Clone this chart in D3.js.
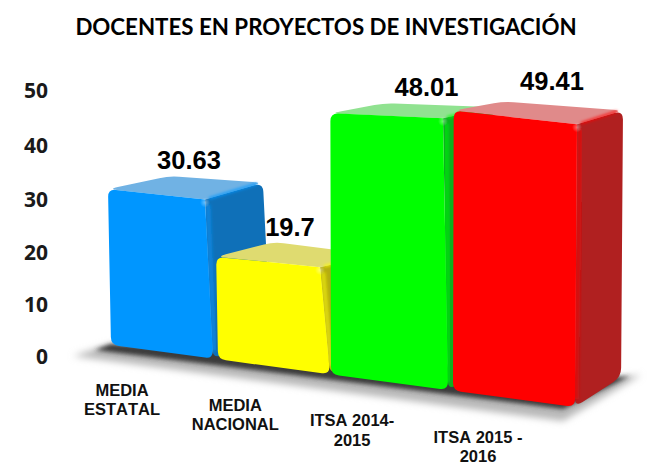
<!DOCTYPE html>
<html><head><meta charset="utf-8">
<script src="https://cdn.jsdelivr.net/npm/d3@7"></script>
<style>html,body{margin:0;padding:0;background:#fff}svg{display:block}</style></head>
<body><svg id="c" width="649" height="471"></svg>
<script>
const title = "DOCENTES EN PROYECTOS DE INVESTIGACIÓN";
const categories = [["MEDIA","ESTATAL"],["MEDIA","NACIONAL"],["ITSA 2014-","2015"],["ITSA 2015 -","2016"]];
const values = [30.63, 19.7, 48.01, 49.41];
const valueTexts = ["30.63","19.7","48.01","49.41"];
const tickValues = [0,10,20,30,40,50];
const frontColors = ["#0096ff","#ffff00","#00ff00","#ff0000"];
const topColors = ["#70b2e4","#dfdb70","#90e290","#e08a8a"];
const sideColors = ["#0f70b8","#b5ad10","#0cb01e","#b02020"];
const rimColors = ["#0a84dc","#dcd808","#06d810","#d81010"];

const svg = d3.select("#c");
const idx = [0,1,2,3];
const xLeft = d3.scaleLinear().domain(idx).range([111,218,331,453]);
const xRight = d3.scaleLinear().domain(idx).range([213,330,448,575]);
const ground = d3.scaleLinear().domain([111,575]).range([345,407]);
const perUnit = d3.scaleLinear().domain([111,218,331,453,575]).range([5.09,5.2,5.44,5.67,5.72]);
const lean = d3.scaleLinear().domain([111,575]).range([-3,2]);
const topRightLean = d3.scaleLinear().domain([213,330,448,575]).range([-8,-10,-5,2]);
const backDx = d3.scaleLinear().domain([108,577]).range([61,46]);
const backDy = d3.scaleLinear().domain([108,217,331,455,577]).range([-13,-15,-10,-9,-12]);
const groundDy = d3.scaleLinear().domain([108,577]).range([-20,-30]);
const yAxisScale = d3.scaleLinear().domain(tickValues).range([357,305,253,200,146,91]);
const labelShift = d3.scaleOrdinal().domain(idx).range([27,16,37,38]);
const labelLift = d3.scaleOrdinal().domain(idx).range([16,15,16,21]);
const catShift = d3.scaleLinear().domain([162,514]).range([-40,-36]);
const catDrop = 39;

const defs = svg.append("defs");
[["blur",2],["blurWide",3.5],["soft",1.5]].forEach(([id,s]) =>
  defs.append("filter").attr("id",id).attr("x","-30%").attr("y","-60%").attr("width","160%").attr("height","220%")
    .append("feGaussianBlur").attr("stdDeviation",s));
const hl = defs.append("radialGradient").attr("id","hl");
hl.append("stop").attr("offset",0).attr("stop-color","#fff").attr("stop-opacity",.4);
hl.append("stop").attr("offset",1).attr("stop-color","#fff").attr("stop-opacity",0);

// Title
svg.append("text").attr("x",326).attr("y",35).attr("text-anchor","middle")
  .attr("font-family","Lato").attr("font-weight",700).attr("font-size",22.3)
  .attr("fill","#000").text(title);

// Value axis
const axis = svg.append("g").attr("transform","translate(48,0)")
  .call(d3.axisLeft(yAxisScale).tickValues(tickValues).tickSize(0).tickPadding(0).tickFormat(d3.format("d")));
axis.select(".domain").remove();
axis.selectAll("text").attr("font-family","Open Sans").attr("font-weight",700).attr("font-size",21).attr("fill","#1a1a1a");

// Floor shadow, derived from the ground line
const g0 = xLeft(0), g3 = xRight(3);
const backEnd = [g3+backDx(g3),ground(g3)+groundDy(g3)];
const wideFloor = [[g0-38,ground(g0)+11],[g0,ground(g0)-1],backEnd,[g3+66,ground(g3)-32],[g3-12,ground(g3)+14]];
const darkFloor = [[g0-16,ground(g0)+5],[g0,ground(g0)-1],backEnd,[g3+55,ground(g3)-31],[g3-12,ground(g3)+2]];
svg.append("path").attr("d",d3.line()(wideFloor)+"Z").attr("fill","#b8b8b8").attr("filter","url(#blurWide)");
svg.append("path").attr("d",d3.line()(darkFloor)+"Z").attr("fill","#3a3a3a").attr("filter","url(#blur)");

const poly = d3.line();
// Rounds only the corners listed in `soft`: the others stay sharp
function roundedPath(pts, r, soft) {
  const p = d3.path();
  const n = pts.length;
  pts.forEach((c,i) => {
    const a = pts[(i+n-1)%n], b = pts[(i+1)%n];
    const rad = soft[i] ? r : 0;
    const la = Math.hypot(a[0]-c[0],a[1]-c[1]), lb = Math.hypot(b[0]-c[0],b[1]-c[1]);
    const s = [c[0]+(a[0]-c[0])*rad/la, c[1]+(a[1]-c[1])*rad/la];
    const e = [c[0]+(b[0]-c[0])*rad/lb, c[1]+(b[1]-c[1])*rad/lb];
    if (i===0) p.moveTo(s[0],s[1]); else p.lineTo(s[0],s[1]);
    p.quadraticCurveTo(c[0],c[1],e[0],e[1]);
  });
  p.closePath();
  return p.toString();
}
idx.forEach(i => {
  const xl = xLeft(i), xr = xRight(i), v = values[i];
  const tl = [xl+lean(xl), ground(xl)-v*perUnit(xl)];
  const bl = [xl, ground(xl)];
  const br = [xr, ground(xr)];
  const tr = [xr+topRightLean(xr), ground(xr)-v*perUnit(xr)];
  const btr = [tr[0]+backDx(tr[0]), tr[1]+backDy(tr[0])-2];
  const btl = [tl[0]+backDx(tl[0]), tl[1]+backDy(tl[0])];
  const bbr = [xr+backDx(xr), ground(xr)+groundDy(xr)];
  const g = svg.append("g");
  g.append("path").attr("d",roundedPath([tl,btl,btr,tr],10,[1,1,1,0])).attr("fill",topColors[i]);
  g.append("path").attr("d",roundedPath([tr,btr,bbr,br],9,[0,1,1,1])).attr("fill",sideColors[i]);
  // lit edge where the top meets the side
  g.append("path").attr("d",poly([[tr[0]+4,tr[1]-1],[btr[0]-6,btr[1]+1]]))
    .attr("fill","none").attr("stroke",frontColors[i]).attr("stroke-width",2).attr("filter","url(#soft)");
  // bevel between front and side
  g.append("path").attr("d",poly([[tr[0]+3,tr[1]+5],[br[0]+1,br[1]-8]]))
    .attr("fill","none").attr("stroke",rimColors[i]).attr("stroke-width",5).attr("filter","url(#soft)");
  g.append("path").attr("d",roundedPath([tl,tr,br,bl],8,[1,0,1,1])).attr("fill",frontColors[i]);
  g.append("circle").attr("cx",tr[0]).attr("cy",tr[1]+3).attr("r",5).attr("fill","url(#hl)");
  // value label
  svg.append("text").attr("x",(xl+xr)/2+labelShift(i)).attr("y",btl[1]-labelLift(i)+9)
    .attr("text-anchor","middle").attr("font-family","Liberation Sans").attr("font-weight",700)
    .attr("font-size",25.5).attr("fill","#000").text(valueTexts[i]);
  // category label
  const mid = (xl+xr)/2;
  const t = svg.append("text").attr("text-anchor","middle").attr("font-family","Liberation Sans")
    .attr("font-weight",700).attr("font-size",16.5).attr("fill","#111").style("font-kerning","none");
  categories[i].forEach((line,k) => t.append("tspan").attr("x",mid+catShift(mid))
    .attr("y",ground(mid)+catDrop+5+k*19.5).text(line));
});
</script></body></html>
